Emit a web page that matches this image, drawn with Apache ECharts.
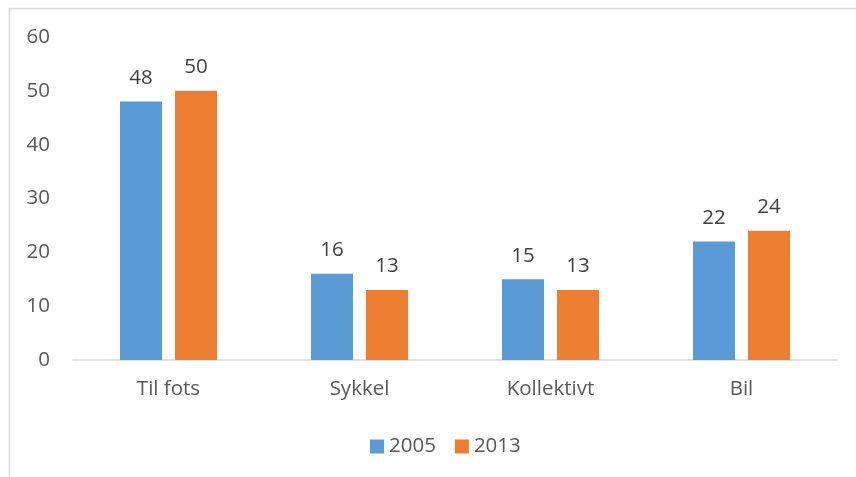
<!DOCTYPE html>
<html>
<head>
<meta charset="utf-8">
<script src="https://cdn.jsdelivr.net/npm/echarts@6/dist/echarts.min.js"></script>
<style>
  html, body { margin: 0; padding: 0; background: #fff; }
  #chart { width: 856px; height: 477px; }
</style>
</head>
<body>
<div id="chart"></div>
<script>
const categories = ["Til fots", "Sykkel", "Kollektivt", "Bil"];
const values2005 = [48, 16, 15, 22];
const values2013 = [50, 13, 13, 24];
const yTicks = { min: 0, max: 60, interval: 10 };

const font = "Open Sans";
const size = 20.5;
const chart = echarts.init(document.getElementById("chart"));

function barSeries(name, data, color) {
  return {
    name: name,
    type: "bar",
    data: data,
    barWidth: 42,
    barGap: "31%",
    itemStyle: { color: color },
    label: {
      show: true,
      position: "top",
      distance: 13,
      color: "#404040",
      fontSize: size,
      fontFamily: font
    }
  };
}

chart.setOption({
  animation: false,
  textStyle: { fontFamily: font },
  graphic: [{
    type: "rect",
    shape: { x: 9.5, y: 8.5, width: 900, height: 500 },
    style: { fill: "none", stroke: "#d9d9d9", lineWidth: 1.5 },
    silent: true
  }],
  grid: { left: 73, right: 19, top: 37, bottom: 117 },
  legend: {
    top: 431,
    left: 365,
    itemWidth: 14,
    itemHeight: 14,
    itemGap: 19,
    icon: "rect",
    textStyle: { color: "#595959", fontSize: size, fontFamily: font },
    data: ["2005", "2013"]
  },
  xAxis: {
    type: "category",
    data: categories,
    axisLine: { lineStyle: { color: "#d9d9d9", width: 1.5 } },
    axisTick: { show: false },
    axisLabel: { color: "#595959", fontSize: size, fontFamily: font, margin: 19 }
  },
  yAxis: {
    type: "value",
    min: yTicks.min,
    max: yTicks.max,
    interval: yTicks.interval,
    axisLine: { show: false },
    axisTick: { show: false },
    splitLine: { show: false },
    axisLabel: { color: "#595959", fontSize: size, fontFamily: font, margin: 23 }
  },
  series: [
    barSeries("2005", values2005, "#5b9bd5"),
    barSeries("2013", values2013, "#ed7d31")
  ]
});
</script>
</body>
</html>
